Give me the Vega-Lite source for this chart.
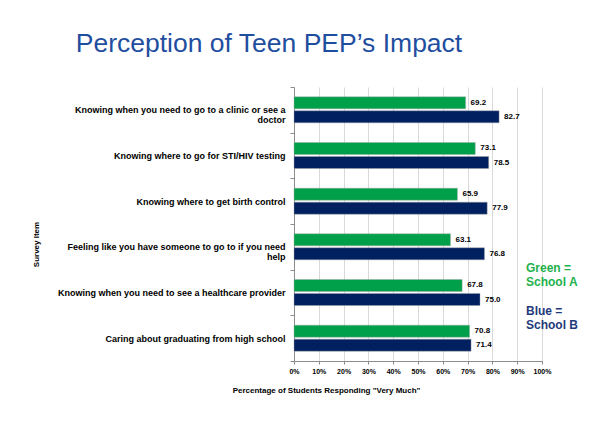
{
  "$schema": "https://vega.github.io/schema/vega-lite/v6.json",
  "autosize": {"type": "none"},
  "width": 248,
  "height": 274,
  "padding": {"left": 294, "top": 87, "right": 50, "bottom": 83},
  "background": "white",
  "title": {
    "text": "Perception of Teen PEP’s Impact",
    "font": "Liberation Sans",
    "fontSize": 26.5,
    "fontWeight": "normal",
    "color": "#1F4E9F",
    "anchor": "middle",
    "frame": "group",
    "dx": -149,
    "offset": 26
  },
  "data": {
    "values": [
      {"item": "Knowing when you need to go to a clinic or see a doctor", "school": "School A", "pct": 69.2},
      {"item": "Knowing when you need to go to a clinic or see a doctor", "school": "School B", "pct": 82.7},
      {"item": "Knowing where to go for STI/HIV testing", "school": "School A", "pct": 73.1},
      {"item": "Knowing where to go for STI/HIV testing", "school": "School B", "pct": 78.5},
      {"item": "Knowing where to get birth control", "school": "School A", "pct": 65.9},
      {"item": "Knowing where to get birth control", "school": "School B", "pct": 77.9},
      {"item": "Feeling like you have someone to go to if you need help", "school": "School A", "pct": 63.1},
      {"item": "Feeling like you have someone to go to if you need help", "school": "School B", "pct": 76.8},
      {"item": "Knowing when you need to see a healthcare provider", "school": "School A", "pct": 67.8},
      {"item": "Knowing when you need to see a healthcare provider", "school": "School B", "pct": 75.0},
      {"item": "Caring about graduating from high school", "school": "School A", "pct": 70.8},
      {"item": "Caring about graduating from high school", "school": "School B", "pct": 71.4}
    ]
  },
  "encoding": {
    "y": {
      "field": "item",
      "type": "nominal",
      "sort": null,
      "scale": {"paddingInner": 0, "paddingOuter": 0},
      "axis": {
        "title": "Survey Item",
        "titleFontSize": 8,
        "titleFontWeight": "bold",
        "titleColor": "#000000",
        "titleX": -254,
        "titleY": 157,
        "labelFontSize": 9,
        "labelFontWeight": "bold",
        "labelColor": "#000000",
        "labelLimit": 300,
        "labelLineHeight": 10,
        "labelPadding": 5,
        "labelExpr": "datum.value == 'Knowing when you need to go to a clinic or see a doctor' ? ['Knowing when you need to go to a clinic or  see a', 'doctor'] : datum.value == 'Feeling like you have someone to go to if you need help' ? ['Feeling like you have someone to go to if you need', 'help'] : datum.value",
        "tickBand": "extent",
        "tickSize": 4,
        "tickColor": "#8c8c8c",
        "domainColor": "#8c8c8c",
        "grid": false
      }
    },
    "yOffset": {
      "field": "school",
      "type": "nominal",
      "sort": ["School A", "School B"],
      "scale": {"paddingInner": 0.14, "paddingOuter": 0.7}
    },
    "x": {
      "field": "pct",
      "type": "quantitative",
      "scale": {"domain": [0, 100]},
      "axis": {
        "title": "Percentage of Students Responding \"Very Much\"",
        "titleFontSize": 8,
        "titleFontWeight": "bold",
        "titleColor": "#000000",
        "titleX": 32,
        "titlePadding": 12,
        "values": [0, 10, 20, 30, 40, 50, 60, 70, 80, 90, 100],
        "labelExpr": "datum.value + '%'",
        "labelOverlap": false,
        "labelFlush": false,
        "labelFontSize": 7,
        "labelFontWeight": "bold",
        "labelColor": "#000000",
        "labelPadding": 3,
        "tickSize": 3,
        "tickColor": "#8c8c8c",
        "domainColor": "#8c8c8c",
        "gridColor": "#d9d9d9"
      }
    }
  },
  "layer": [
    {
      "mark": {"type": "bar", "stroke": "#a6a6a6", "strokeWidth": 0.6, "strokeOpacity": 0.7},
      "encoding": {
        "color": {
          "field": "school",
          "type": "nominal",
          "scale": {"domain": ["School A", "School B"], "range": ["#00A04A", "#002060"]},
          "legend": {
            "orient": "none",
            "legendX": 220,
            "legendY": 175,
            "title": null,
            "symbolSize": 0,
            "symbolOpacity": 0,
            "symbolStrokeWidth": 0,
            "labelOffset": 0,
            "labelFontSize": 12,
            "labelFontWeight": "bold",
            "labelLineHeight": 14,
            "rowPadding": 17,
            "labelLimit": 200,
            "labelColor": {"expr": "datum.value === 'School A' ? '#22B14C' : '#1F3A7A'"},
            "labelExpr": "datum.value == 'School A' ? ['Green =', 'School A'] : ['Blue =', 'School B']"
          }
        }
      }
    },
    {
      "mark": {"type": "text", "align": "left", "baseline": "middle", "dx": 5, "fontSize": 8, "fontWeight": "bold", "color": "#000000"},
      "encoding": {
        "text": {"field": "pct", "type": "quantitative", "format": ".1f"}
      }
    }
  ],
  "config": {
    "font": "Liberation Sans",
    "view": {"stroke": null}
  }
}
